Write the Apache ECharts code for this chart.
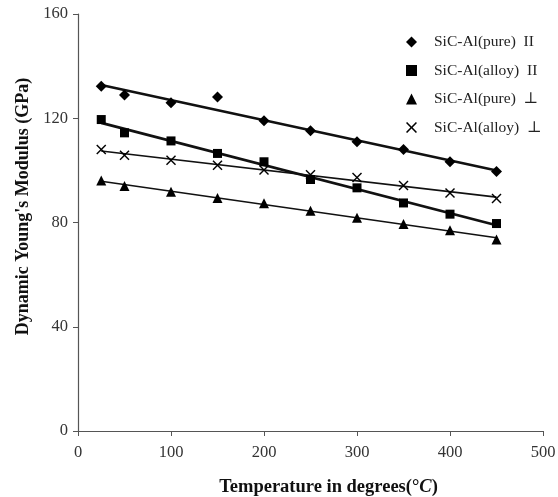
<!DOCTYPE html>
<html>
<head>
<meta charset="utf-8">
<script src="https://cdn.jsdelivr.net/npm/echarts@6/dist/echarts.min.js"></script>
<style>
  html, body { margin: 0; padding: 0; background: #fff; }
  #chart { width: 558px; height: 497px; }
</style>
</head>
<body>
<div id="chart"></div>
<script>
const temps = [25, 50, 100, 150, 200, 250, 300, 350, 400, 450];
const pureParallel = [132.3, 128.9, 125.9, 128.2, 119.0, 115.2, 111.0, 108.0, 103.3, 99.6];
const alloyParallel = [119.5, 114.4, 111.3, 106.5, 103.3, 96.5, 93.3, 87.5, 83.2, 79.6];
const purePerp = [96.1, 94.0, 91.8, 89.4, 87.4, 84.5, 81.8, 79.4, 77.0, 73.5];
const alloyPerp = [108.0, 105.8, 103.9, 102.0, 100.1, 98.3, 97.3, 94.2, 91.3, 89.2];

const seriesNames = ["SiC-Al(pure)  II", "SiC-Al(alloy)  II", "SiC-Al(pure)  \u22A5", "SiC-Al(alloy)  \u22A5"];
const crossPath = "path://M1,0L5,4L9,0L10,1L6,5L10,9L9,10L5,6L1,10L0,9L4,5L0,1Z";

// least squares fit -> line from first to last temperature
function fitLine(xs, ys) {
  const n = xs.length;
  const mx = xs.reduce((a, b) => a + b, 0) / n;
  const my = ys.reduce((a, b) => a + b, 0) / n;
  let sxy = 0, sxx = 0;
  for (let i = 0; i < n; i++) {
    sxy += (xs[i] - mx) * (ys[i] - my);
    sxx += (xs[i] - mx) * (xs[i] - mx);
  }
  const k = sxy / sxx, b = my - k * mx;
  const x0 = xs[0], x1 = xs[n - 1];
  return [[x0, k * x0 + b], [x1, k * x1 + b]];
}

const sets = [
  { name: seriesNames[0], ys: pureParallel, symbol: "diamond", size: 11, width: 2.6 },
  { name: seriesNames[1], ys: alloyParallel, symbol: "rect", size: 9, width: 2.6 },
  { name: seriesNames[2], ys: purePerp, symbol: "triangle", size: 10, width: 1.6 },
  { name: seriesNames[3], ys: alloyPerp, symbol: crossPath, size: 10, width: 1.6 }
];

const series = [];
sets.forEach(s => {
  series.push({
    name: s.name + "_fit",
    type: "line",
    data: fitLine(temps, s.ys),
    showSymbol: false,
    silent: true,
    z: 1,
    lineStyle: { color: "#111", width: s.width }
  });
  series.push({
    name: s.name,
    type: "scatter",
    data: temps.map((t, i) => [t, s.ys[i]]),
    symbol: s.symbol,
    symbolSize: s.size,
    z: 3,
    itemStyle: { color: "#000", opacity: 1 }
  });
});

const serif = "'Liberation Serif', 'DejaVu Serif', serif";
const chart = echarts.init(document.getElementById("chart"));
chart.setOption({
  animation: false,
  backgroundColor: "#fff",
  grid: { left: 78, right: 15, top: 14, bottom: 66, outerBoundsMode: "none" },
  legend: {
    orient: "vertical",
    left: 401,
    top: 28,
    itemGap: 10.5,
    itemWidth: 11,
    itemHeight: 11,
    data: sets.map(s => ({ name: s.name, icon: s.symbol })),
    textStyle: { fontFamily: serif, fontSize: 15.5, color: "#222", lineHeight: 18, padding: [0, 0, 0, 12] }
  },
  xAxis: {
    type: "value",
    min: 0,
    max: 500,
    interval: 100,
    name: "Temperature in degrees(\u00B0{i|C})",
    nameLocation: "middle",
    nameGap: 47,
    nameTextStyle: {
      fontFamily: serif, fontSize: 18.5, fontWeight: "bold", color: "#111", padding: [0, 0, 0, 36],
      rich: { i: { fontFamily: serif, fontSize: 18.5, fontStyle: "italic", color: "#111" } }
    },
    axisLine: { lineStyle: { color: "#555", width: 1.2 } },
    axisTick: { inside: false, length: 5, lineStyle: { color: "#555" } },
    axisLabel: { fontFamily: serif, fontSize: 16.5, color: "#333", margin: 13 },
    splitLine: { show: false }
  },
  yAxis: {
    type: "value",
    min: 0,
    max: 160,
    interval: 40,
    name: "Dynamic Young's Modulus (GPa)",
    nameLocation: "middle",
    nameGap: 46,
    nameTextStyle: { fontFamily: serif, fontSize: 18, fontWeight: "bold", color: "#111", padding: [0, 0, 0, 32] },
    axisLine: { show: true, lineStyle: { color: "#555", width: 1.2 } },
    axisTick: { show: true, inside: false, length: 5, lineStyle: { color: "#555" } },
    axisLabel: { fontFamily: serif, fontSize: 16.5, color: "#333", margin: 10 },
    splitLine: { show: false }
  },
  series: series
});
</script>
</body>
</html>
